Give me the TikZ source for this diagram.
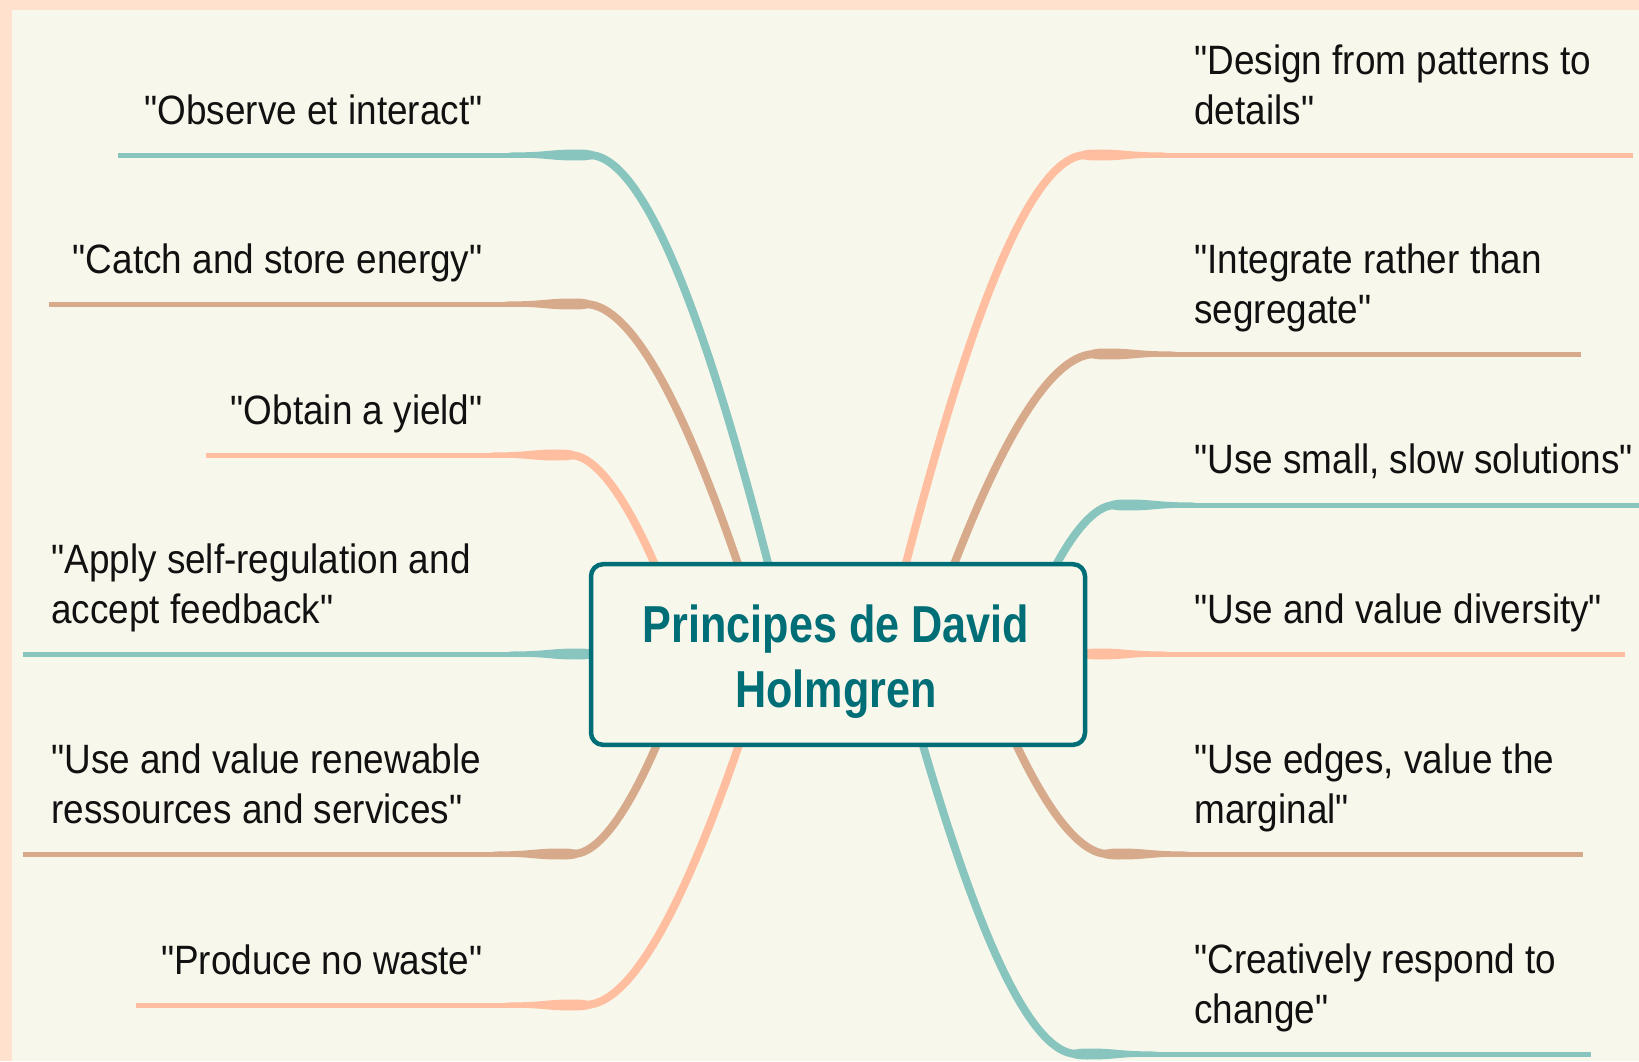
\documentclass[tikz,border=0pt]{standalone}
\usepackage{fontspec}
\setmainfont{Liberation Sans}[FakeStretch=0.9, Ligatures=TeXOff]
\newfontfamily\titlefont{Liberation Sans}[FakeStretch=0.83, Ligatures=TeXOff]
\usetikzlibrary{calc}
\definecolor{bgpeach}{HTML}{FFE1CE}
\definecolor{cream}{HTML}{F8F7EB}
\definecolor{cteal}{HTML}{87C5BE}
\definecolor{ctan}{HTML}{D7AA8B}
\definecolor{cpeach}{HTML}{FFBE9F}
\definecolor{ctitle}{HTML}{006E77}
\definecolor{ctext}{HTML}{111111}
\pgfdeclarelayer{bg}\pgfdeclarelayer{mid}\pgfsetlayers{bg,mid,main}
% tapered knob where a branch turns horizontal: #1 colour, #2 coordinate, #3 direction (-1 left, 1 right)
\newcommand\knob[3]{%
  \fill[#1] ($(#2)+(#3*-4,-4)$) .. controls ($(#2)+(#3*4,-5.6)$) .. ($(#2)+(#3*20,-5.4)$)
    .. controls ($(#2)+(#3*40,-5)$) and ($(#2)+(#3*45,-2.5)$) .. ($(#2)+(#3*80,-2.5)$)
    -- ($(#2)+(#3*80,2.5)$)
    .. controls ($(#2)+(#3*45,2.5)$) and ($(#2)+(#3*40,5)$) .. ($(#2)+(#3*20,5.4)$)
    .. controls ($(#2)+(#3*4,5.6)$) .. ($(#2)+(#3*-4,4)$) -- cycle;}
\begin{document}
\begin{tikzpicture}[x=0.5pt,y=-0.5pt,
  curve/.style={line width=4pt},
  stem/.style={line width=2.5pt},
  lbl/.style={inner sep=0pt, text=ctext, font=\fontsize{20.5}{25}\selectfont},
  lblE/.style={lbl, anchor=base east},
  lblW/.style={lbl, anchor=base west},
  hub/.style={draw=ctitle, line width=2.25pt, rounded corners=6pt, fill=cream,
    minimum width=247pt, minimum height=90.3pt, inner sep=0pt},
  hubtext/.style={inner sep=0pt, anchor=base, text=ctitle,
    font=\titlefont\bfseries\fontsize{26}{32.5}\selectfont},
]
\useasboundingbox (0,0) rectangle (1639,1061);
\begin{pgfonlayer}{bg}
  \fill[bgpeach] (0,0) rectangle (1639,1061);
  \fill[cream] (12,10) rectangle (1639,1061);
\end{pgfonlayer}

% central node
\node[hub] (c) at (838,654.5) {};
\node[hubtext] (title) at (836,707) {\begin{tabular}[b]{@{}c@{}}Principes de David\\Holmgren\end{tabular}};

\begin{pgfonlayer}{mid}
  % left side
  \coordinate (L1b) at (769,567); \coordinate (L1e) at (589,155); \coordinate (L1t) at (118,155);
  \draw[curve,cteal] (L1b) .. controls (718.6,370.7) and (652,155) .. (L1e);
  \draw[stem,cteal] (L1e) -- (L1t);
  \knob{cteal}{L1e}{-1}

  \coordinate (L2b) at (739,567); \coordinate (L2e) at (585,304); \coordinate (L2t) at (49,304);
  \draw[curve,ctan] (L2b) .. controls (695.9,440.7) and (638.9,304) .. (L2e);
  \draw[stem,ctan] (L2e) -- (L2t);
  \knob{ctan}{L2e}{-1}

  \coordinate (L3b) at (656,567); \coordinate (L3e) at (570,455); \coordinate (L3t) at (206,455);
  \draw[curve,cpeach] (L3b) .. controls (631.9,511.7) and (600.1,455) .. (L3e);
  \draw[stem,cpeach] (L3e) -- (L3t);
  \knob{cpeach}{L3e}{-1}

  \coordinate (L4b) at (594,654); \coordinate (L4e) at (589,654); \coordinate (L4t) at (23,654);
  \draw[stem,cteal] (L4b) -- (L4t);
  \knob{cteal}{L4e}{-1}

  \coordinate (L5b) at (658,742); \coordinate (L5e) at (573,854); \coordinate (L5t) at (23,854);
  \draw[curve,ctan] (L5b) .. controls (634.2,797.3) and (602.8,854) .. (L5e);
  \draw[stem,ctan] (L5e) -- (L5t);
  \knob{ctan}{L5e}{-1}

  \coordinate (L6b) at (740,742); \coordinate (L6e) at (585,1005); \coordinate (L6t) at (136,1005);
  \draw[curve,cpeach] (L6b) .. controls (696.6,868.3) and (639.3,1005) .. (L6e);
  \draw[stem,cpeach] (L6e) -- (L6t);
  \knob{cpeach}{L6e}{-1}

  % right side
  \coordinate (R1b) at (905,567); \coordinate (R1e) at (1086,155); \coordinate (R1t) at (1633,155);
  \draw[curve,cpeach] (R1b) .. controls (955.7,370.7) and (1022.6,155) .. (R1e);
  \draw[stem,cpeach] (R1e) -- (R1t);
  \knob{cpeach}{R1e}{1}

  \coordinate (R2b) at (953,567); \coordinate (R2e) at (1095,354); \coordinate (R2t) at (1581,354);
  \draw[curve,ctan] (R2b) .. controls (992.8,464.2) and (1045.3,354) .. (R2e);
  \draw[stem,ctan] (R2e) -- (R2t);
  \knob{ctan}{R2e}{1}

  \coordinate (R3b) at (1055,567); \coordinate (R3e) at (1115,505); \coordinate (R3t) at (1639,505);
  \draw[curve,cteal] (R3b) .. controls (1071.8,535.2) and (1094,505) .. (R3e);
  \draw[stem,cteal] (R3e) -- (R3t);
  \knob{cteal}{R3e}{1}

  \coordinate (R4b) at (1082,654); \coordinate (R4e) at (1087,654); \coordinate (R4t) at (1625,654);
  \draw[stem,cpeach] (R4b) -- (R4t);
  \knob{cpeach}{R4e}{1}

  \coordinate (R5b) at (1015,742); \coordinate (R5e) at (1108,854); \coordinate (R5t) at (1583,854);
  \draw[curve,ctan] (R5b) .. controls (1041,797.3) and (1075.5,854) .. (R5e);
  \draw[stem,ctan] (R5e) -- (R5t);
  \knob{ctan}{R5e}{1}

  \coordinate (R6b) at (922,742); \coordinate (R6e) at (1077,1054); \coordinate (R6t) at (1591,1054);
  \draw[curve,cteal] (R6b) .. controls (965.4,891.3) and (1022.8,1054) .. (R6e);
  \draw[stem,cteal] (R6e) -- (R6t);
  \knob{cteal}{R6e}{1}
\end{pgfonlayer}

% labels
\node[lblE] (tL1) at (483,124) {"Observe et interact"};
\node[lblE] (tL2) at (483,273) {"Catch and store energy"};
\node[lblE] (tL3) at (483,424) {"Obtain a yield"};
\node[lblW] (tL4) at (51,623) {\begin{tabular}[b]{@{}l@{}}"Apply self-regulation and\\accept feedback"\end{tabular}};
\node[lblW] (tL5) at (51,823) {\begin{tabular}[b]{@{}l@{}}"Use and value renewable\\ressources and services"\end{tabular}};
\node[lblE] (tL6) at (483,974) {"Produce no waste"};

\node[lblW] (tR1) at (1194,124) {\begin{tabular}[b]{@{}l@{}}"Design from patterns to\\details"\end{tabular}};
\node[lblW] (tR2) at (1194,323) {\begin{tabular}[b]{@{}l@{}}"Integrate rather than\\segregate"\end{tabular}};
\node[lblW] (tR3) at (1194,473) {"Use small, slow solutions"};
\node[lblW] (tR4) at (1194,623) {"Use and value diversity"};
\node[lblW] (tR5) at (1194,823) {\begin{tabular}[b]{@{}l@{}}"Use edges, value the\\marginal"\end{tabular}};
\node[lblW] (tR6) at (1194,1023) {\begin{tabular}[b]{@{}l@{}}"Creatively respond to\\change"\end{tabular}};
\end{tikzpicture}
\end{document}
